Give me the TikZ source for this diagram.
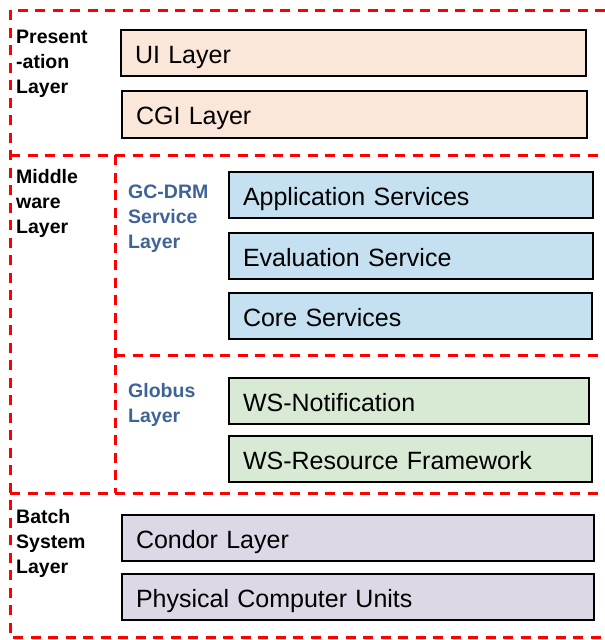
\documentclass[tikz,border=0pt]{standalone}
\usepackage{fontspec}
\setmainfont{Liberation Sans}
\definecolor{peach}{RGB}{251,231,218}
\definecolor{paleblue}{RGB}{197,224,241}
\definecolor{palegreen}{RGB}{217,234,212}
\definecolor{palepurple}{RGB}{221,215,230}
\definecolor{labelblue}{RGB}{62,100,150}
\definecolor{sepred}{RGB}{255,0,0}
\begin{document}
\begin{tikzpicture}[x=1pt,y=-1pt,
  sep/.style={draw=sepred, line width=3pt, dash pattern=on 10pt off 7.5pt},
  layerbox/.style={draw=black, line width=2pt, anchor=north west,
    inner xsep=14pt, inner ysep=0pt, align=left,
    text height=20pt, text depth=0pt,
    font=\fontsize{25}{30}\selectfont},
  grouplabel/.style={anchor=base west, inner sep=0pt, align=left,
    font=\bfseries\fontsize{19.5}{25}\selectfont},
  sublabel/.style={grouplabel, text=labelblue}]
\useasboundingbox (0,0) rectangle (605,640);

% layer separators
\draw[sep] (605,10) -- (10,10) -- (10,637) -- (605,637);
\draw[sep] (10,155) -- (605,155);
\draw[sep] (10,493) -- (605,493);
\draw[sep] (115,155) -- (115,493);
\draw[sep] (115,355) -- (605,355);

% group labels (anchored at the baseline of their last line)
\node[grouplabel] (pres) at (16,93) {Present\\-ation\\Layer};
\node[grouplabel] (mid) at (16,233) {Middle\\ware\\Layer};
\node[grouplabel] (batch) at (16,573) {Batch\\System\\Layer};
\node[sublabel] (gcdrm) at (128,248) {GC-DRM\\Service\\Layer};
\node[sublabel] (globus) at (128,422) {Globus\\Layer};

% presentation layer
\node[layerbox, fill=peach, text width=437pt, minimum height=46pt] (ui) at (120,29) {UI Layer};
\node[layerbox, fill=peach, text width=437pt, minimum height=47pt] (cgi) at (121,90) {CGI Layer};

% GC-DRM service layer
\node[layerbox, fill=paleblue, text width=336pt, minimum height=46pt] (app) at (228,171) {Application Services};
\node[layerbox, fill=paleblue, text width=336pt, minimum height=46pt] (eval) at (228,232) {Evaluation Service};
\node[layerbox, fill=paleblue, text width=335pt, minimum height=46pt] (core) at (228,292) {Core Services};

% Globus layer
\node[layerbox, fill=palegreen, text width=332pt, minimum height=46pt] (wsn) at (228,377) {WS-Notification};
\node[layerbox, fill=palegreen, text width=335pt, minimum height=46pt] (wsrf) at (228,435) {WS-Resource Framework};

% batch system layer
\node[layerbox, fill=palepurple, text width=444pt, minimum height=46pt] (condor) at (121,514) {Condor Layer};
\node[layerbox, fill=palepurple, text width=444pt, minimum height=46pt] (phys) at (121,573) {Physical Computer Units};
\end{tikzpicture}
\end{document}
